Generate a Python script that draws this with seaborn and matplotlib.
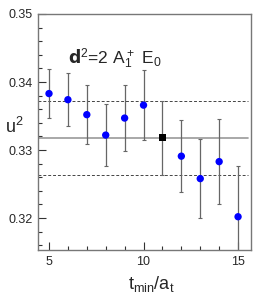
import numpy as np
import pandas as pd
import matplotlib
matplotlib.use('Agg')
import matplotlib.pyplot as plt
import seaborn as sns

# data
t_min = [5, 6, 7, 8, 9, 10, 11, 12, 13, 14, 15]
u2 = [0.3383, 0.3374, 0.3352, 0.3322, 0.3347, 0.3366, 0.3318, 0.3291, 0.3258, 0.3283, 0.3202]
u2_err = [0.0036, 0.0039, 0.0043, 0.0045, 0.0048, 0.0051, 0.0054, 0.0053, 0.0058, 0.0063, 0.0075]
chosen = [False, False, False, False, False, False, True, False, False, False, False]
fit_value = 0.3318
fit_err = 0.0054

df = pd.DataFrame({'t': t_min, 'u2': u2, 'err': u2_err, 'chosen': chosen})

sns.set_style('ticks')
plt.rcParams['font.family'] = ['Liberation Sans', 'DejaVu Sans']
plt.rcParams['mathtext.default'] = 'regular'

fig, ax = plt.subplots(figsize=(2.66, 2.97), dpi=100)
fig.subplots_adjust(left=0.143, right=0.944, top=0.953, bottom=0.158)

ax.axhline(fit_value, color='#999999', lw=1.2, xmax=0.985, zorder=1)
ax.axhline(fit_value + fit_err, color='#444444', lw=0.7, ls=(0, (3, 2)), xmax=0.985, zorder=1)
ax.axhline(fit_value - fit_err, color='#444444', lw=0.7, ls=(0, (3, 2)), xmax=0.985, zorder=1)

ax.errorbar(df['t'], df['u2'], yerr=df['err'], fmt='none', ecolor='#666666',
            elinewidth=0.9, capsize=1.5, capthick=0.8, zorder=2)
sns.scatterplot(data=df[~df['chosen']], x='t', y='u2', color='#0000ff', s=28,
                edgecolor='none', ax=ax, zorder=3)
sns.scatterplot(data=df[df['chosen']], x='t', y='u2', color='black', marker='s', s=26,
                edgecolor='none', ax=ax, zorder=3)

ax.set_xlim(4.42, 15.69)
ax.set_ylim(0.3153, 0.35)
ax.set_xticks([5, 10, 15])
ax.set_xticks(range(5, 16), minor=True)
ax.set_yticks([0.32, 0.33, 0.34, 0.35])
ax.set_yticks(np.arange(0.316, 0.3501, 0.002), minor=True)
ax.set_yticklabels(['0.32', '0.33', '0.34', '0.35'])
ax.tick_params(axis='both', which='major', direction='in', length=6, width=0.8,
               labelsize=9, color='#333333', pad=4)
ax.tick_params(axis='both', which='minor', direction='in', length=3, width=0.8, color='#333333')
for sp in ax.spines.values():
    sp.set_color('#777777')
    sp.set_linewidth(1.0)

ax.set_xlabel(r'$t_{min}/a_t$', fontsize=13)
ax.xaxis.set_label_coords(0.53, -0.1)
ax.set_ylabel(r'$u^2$', fontsize=13, rotation=0, va='center')
ax.yaxis.set_label_coords(-0.11, 0.52)

ax.text(0.14, 0.81, r'$\mathbf{d}^2$=2 A$_1^+$ E$_0$',
        transform=ax.transAxes, fontsize=12.5, va='center')

plt.savefig('out.png', dpi=100)
